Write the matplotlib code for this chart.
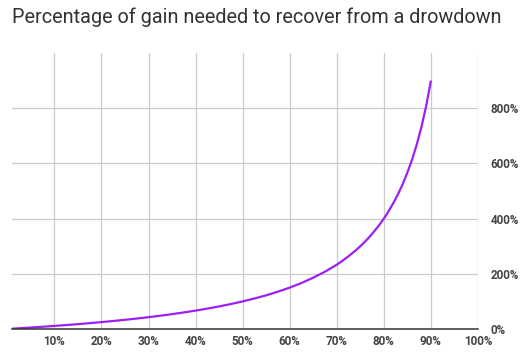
import matplotlib
matplotlib.use("Agg")
from matplotlib import pyplot as plt
from matplotlib.ticker import FuncFormatter

# drawdown (%) and the gain (%) needed to get back to even
drawdown = [1, 2.5, 5, 7.5, 10, 12.5, 15, 17.5, 20, 22.5, 25, 27.5, 30, 32.5,
            35, 37.5, 40, 42.5, 45, 47.5, 50, 52.5, 55, 57.5, 60, 62.5, 65,
            67.5, 70, 71, 72.5, 74, 75, 76, 77, 78, 79, 80, 81, 82, 83, 84,
            85, 86, 87, 88, 89, 90]
gain = [1.0, 2.6, 5.3, 8.1, 11.1, 14.3, 17.6, 21.2, 25, 29.0, 33.3, 37.9,
        42.9, 48.1, 53.8, 60, 66.7, 73.9, 81.8, 90.5, 100, 110.5, 122, 135.3,
        150, 166.7, 186, 207.7, 233, 244.8, 263.6, 284.6, 300, 316.7, 334.8,
        355, 376.2, 400, 426.3, 456, 488.2, 525, 567, 614, 669, 733, 809, 900]

xticks = [10, 20, 30, 40, 50, 60, 70, 80, 90, 100]
yticks = [0, 200, 400, 600, 800]

title = "Percentage of gain needed to recover from a drowdown"

fig = plt.figure(figsize=(5.28, 3.57), dpi=100)
ax = fig.add_axes([12/528, 28/357, 466/528, 276/357])

ax.plot(drawdown, gain, color="#9c1ff5", lw=1.6, solid_capstyle="butt",
        solid_joinstyle="round", zorder=3)

ax.set_xlim(1, 100)
ax.set_ylim(0, 1000)
ax.set_xticks(xticks)
ax.set_yticks(yticks)
pct = FuncFormatter(lambda v, p: "%d%%" % v)
ax.xaxis.set_major_formatter(pct)
ax.yaxis.set_major_formatter(pct)

ax.grid(True, color="#cccccc", lw=0.9)
ax.set_axisbelow(True)
for s in ["top", "left", "right"]:
    ax.spines[s].set_visible(False)
ax.spines["bottom"].set_color("#333333")
ax.spines["bottom"].set_linewidth(1.1)
ax.spines["bottom"].set_zorder(4)

ax.yaxis.tick_right()
ax.tick_params(length=0, labelsize=8.4, labelcolor="#444444")
ax.tick_params(axis="y", pad=9)
ax.tick_params(axis="x", pad=4)
for lbl in ax.get_xticklabels() + ax.get_yticklabels():
    lbl.set_fontfamily("Roboto")
    lbl.set_fontweight("bold")

fig.text(12/528, 1 - 17/357, title, fontsize=14.3, color="#333333",
         family="Roboto", va="center", ha="left")

fig.savefig("out.png", dpi=100)
